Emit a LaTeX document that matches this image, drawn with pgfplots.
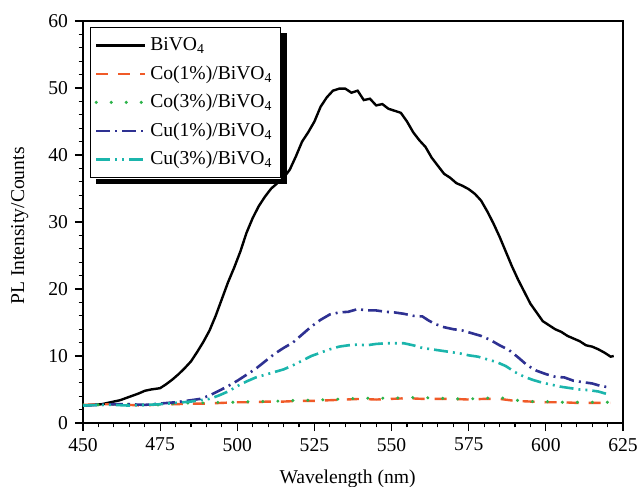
\documentclass[border=0pt]{standalone}
\usepackage{fontspec}
\setmainfont{Liberation Serif}
\usepackage{pgfplots}
\pgfplotsset{compat=1.18}
\usetikzlibrary{calc}

\definecolor{coone}{HTML}{F05A28}
\definecolor{cothree}{HTML}{2DB34A}
\definecolor{cuone}{HTML}{2E3192}
\definecolor{cuthree}{HTML}{1BB5AC}

\begin{document}
\begin{tikzpicture}[font=\fontsize{9.8}{11}\selectfont]
\begin{axis}[
  at={(0,0)}, anchor=south west,
  scale only axis,
  width=270pt, height=201pt,
  xmin=450, xmax=625, ymin=0, ymax=60,
  xtick={450,475,...,625}, ytick={0,10,...,60},
  minor x tick num=4, minor y tick num=4,
  xtick pos=bottom, ytick pos=left,
  tick align=outside,
  major tick length=4pt, minor tick length=2.2pt,
  axis line style={line width=0.75pt},
  every tick/.style={black, line width=0.6pt},
  /pgf/number format/assume math mode=true,
  xticklabel style={font=\fontsize{9.8}{11}\selectfont},
  yticklabel style={font=\fontsize{9.8}{11}\selectfont},
  xlabel={Wavelength (nm)},
  ylabel={PL Intensity/Counts},
  xlabel style={at={(axis description cs:0.49,0)}, anchor=base, yshift=-30pt},
  ylabel style={at={(axis description cs:-0.117,0.49)}, anchor=center},
  legend cell align=left,
  legend style={name=leg, at={(axis description cs:0.013,0.985)}, anchor=north west,
    draw=black, line width=0.5pt, fill=white,
    inner xsep=2pt, inner ysep=3pt, row sep=2pt,
    font=\fontsize{9.8}{11}\selectfont},
  legend image code/.code={\draw[#1] (0cm,0cm) -- (0.85cm,0cm);},
]
\addplot[black, line width=1.2pt] coordinates {
(450,2.6) (453,2.7) (456,2.8) (459,3.1) (462,3.4) (465,3.9) (468,4.4) (470,4.8)
(472,5.0) (475,5.2) (477,5.8) (479,6.5) (481,7.3) (483,8.2) (485,9.2) (487,10.6)
(489,12.1) (491,13.8) (493,16.0) (495,18.5) (497,21.0) (499,23.2) (501,25.6)
(503,28.4) (505,30.6) (507,32.4) (509,33.8) (511,35.0) (513,35.8) (515,36.6)
(517,37.8) (519,39.8) (521,42.0) (523,43.4) (525,45.0) (527,47.2) (529,48.6)
(531,49.6) (533,49.9) (535,49.9) (537,49.3) (539,49.6) (541,48.2) (543,48.4)
(545,47.4) (547,47.6) (549,46.9) (551,46.6) (553,46.3) (555,45.0) (557,43.4)
(559,42.2) (561,41.2) (563,39.6) (565,38.4) (567,37.2) (569,36.6) (571,35.8)
(573,35.4) (575,34.9) (577,34.2) (579,33.2) (581,31.6) (583,29.8) (585,27.8)
(587,25.6) (589,23.4) (591,21.4) (593,19.6) (595,17.8) (597,16.5) (599,15.2)
(601,14.6) (603,14.0) (605,13.6) (607,13.0) (609,12.6) (611,12.2) (613,11.6)
(615,11.4) (617,11.0) (619,10.5) (621,9.9) (622,10.0)
};
\addlegendentry{BiVO\textsubscript{4}}
\addplot[coone, line width=1.2pt, dash pattern=on 6pt off 5pt] coordinates {
(450,2.7) (455,2.8) (460,2.8) (465,2.7) (470,2.6) (475,2.8) (480,2.8) (485,2.9)
(490,2.9) (495,3.0) (500,3.1) (505,3.1) (510,3.2) (515,3.2) (520,3.3) (525,3.3)
(530,3.4) (535,3.5) (540,3.6) (545,3.5) (550,3.6) (555,3.7) (560,3.6) (565,3.6)
(570,3.6) (575,3.5) (580,3.6) (585,3.6) (590,3.3) (595,3.2) (600,3.1) (605,3.1)
(610,3.0) (615,3.0) (621,3.0)
};
\addlegendentry{Co(1\%)/BiVO\textsubscript{4}}
\addplot[cothree, line width=1.7pt, line cap=round, dash pattern=on 0pt off 7.5pt] coordinates {
(450,2.7) (455,2.7) (460,2.8) (465,2.8) (470,2.7) (475,2.7) (480,2.9) (485,3.0)
(490,3.0) (495,3.1) (500,3.1) (505,3.2) (510,3.2) (515,3.3) (520,3.4) (525,3.4)
(530,3.5) (535,3.6) (540,3.7) (545,3.7) (550,3.7) (555,3.8) (560,3.8) (565,3.7)
(570,3.6) (575,3.6) (580,3.7) (585,3.8) (590,3.4) (595,3.2) (600,3.2) (605,3.1)
(610,3.1) (615,3.1) (621,3.1)
};
\addlegendentry{Co(3\%)/BiVO\textsubscript{4}}
\addplot[cuone, line width=1.3pt, dash pattern=on 7pt off 2.5pt on 1pt off 2.5pt] coordinates {
(450,2.6) (455,2.7) (460,2.8) (465,2.8) (470,2.7) (475,2.9) (480,3.1) (485,3.4)
(488,3.6) (491,4.1) (494,4.8) (497,5.5) (500,6.3) (503,7.2) (506,8.1) (509,9.2)
(512,10.3) (515,11.2) (518,12.0) (521,13.2) (524,14.4) (527,15.4) (530,16.2)
(533,16.5) (536,16.6) (539,17.0) (542,16.8) (545,16.8) (548,16.6) (551,16.5)
(554,16.3) (557,16.0) (560,15.9) (562,15.3) (564,14.8) (567,14.3) (570,14.0)
(573,13.8) (576,13.4) (579,13.0) (582,12.4) (585,11.6) (588,10.9) (591,9.8)
(594,8.6) (597,7.8) (600,7.3) (603,6.9) (606,6.8) (609,6.3) (612,6.1) (615,5.9)
(618,5.5) (621,5.3)
};
\addlegendentry{Cu(1\%)/BiVO\textsubscript{4}}
\addplot[cuthree, line width=1.3pt, dash pattern=on 7pt off 2.5pt on 1pt off 2.5pt on 1pt off 2.5pt] coordinates {
(450,2.6) (455,2.7) (460,2.7) (465,2.6) (470,2.7) (475,2.8) (480,3.0) (485,3.2)
(488,3.4) (491,3.6) (494,4.1) (497,4.7) (500,5.5) (503,6.2) (506,6.8) (509,7.2)
(512,7.6) (515,8.0) (518,8.6) (521,9.3) (524,10.0) (527,10.5) (530,11.0)
(533,11.4) (536,11.6) (539,11.7) (542,11.6) (545,11.8) (548,11.9) (551,11.9)
(554,11.9) (557,11.6) (560,11.2) (563,11.0) (566,10.8) (569,10.6) (572,10.4)
(575,10.1) (578,9.9) (581,9.5) (584,9.1) (587,8.5) (590,7.6) (593,6.9) (596,6.4)
(599,6.0) (602,5.7) (605,5.4) (608,5.2) (611,5.0) (614,4.9) (617,4.7) (620,4.3)
};
\addlegendentry{Cu(3\%)/BiVO\textsubscript{4}}
\end{axis}
% legend shadow: dark strips along the right and bottom edges
\fill[black] ($(leg.north east)+(0.25pt,-3pt)$) rectangle ($(leg.south east)+(3pt,-3pt)$);
\fill[black] ($(leg.south west)+(3pt,-0.25pt)$) rectangle ($(leg.south east)+(3pt,-3pt)$);
\pgfresetboundingbox
\path (-41.5pt,-32pt) rectangle (277pt,211.5pt);
\end{tikzpicture}
\end{document}
